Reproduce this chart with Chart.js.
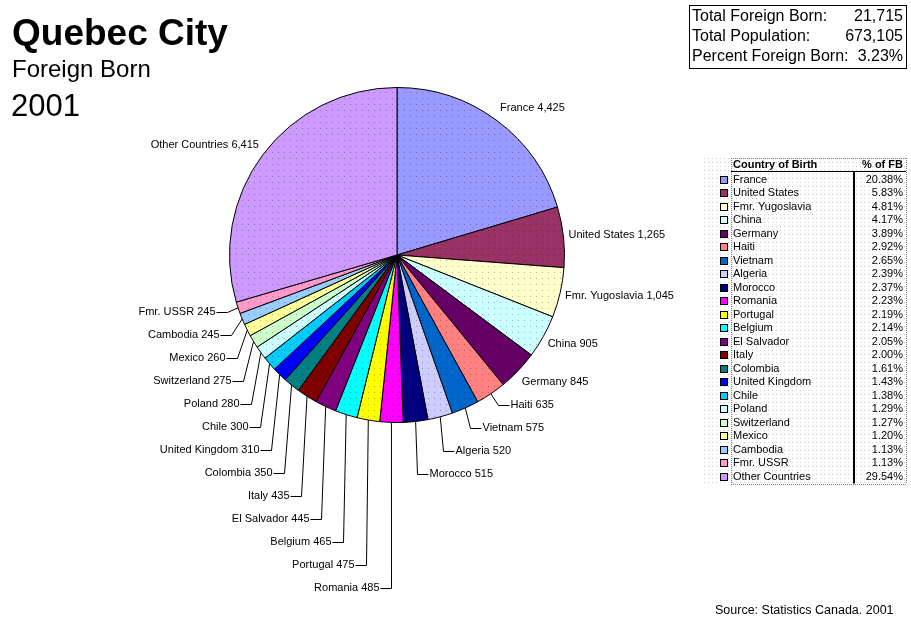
<!DOCTYPE html>
<html>
<head>
<meta charset="utf-8">
<script src="https://cdn.jsdelivr.net/npm/chart.js@4.4.0/dist/chart.umd.min.js"></script>
<style>
  html, body { margin: 0; padding: 0; background: #fff; }
</style>
</head>
<body>
<canvas id="pieChart" width="911" height="623"></canvas>
<script>
// Foreign born by country of birth, Quebec City 2001
const countries = ['France', 'United States', 'Fmr. Yugoslavia', 'China', 'Germany', 'Haiti', 'Vietnam',
  'Algeria', 'Morocco', 'Romania', 'Portugal', 'Belgium', 'El Salvador', 'Italy', 'Colombia',
  'United Kingdom', 'Chile', 'Poland', 'Switzerland', 'Mexico', 'Cambodia', 'Fmr. USSR', 'Other Countries'];
const foreignBorn = [4425, 1265, 1045, 905, 845, 635, 575, 520, 515, 485, 475, 465, 445, 435, 350,
  310, 300, 280, 275, 260, 245, 245, 6415];
const totalForeignBorn = 21715;
const totalPopulation = 673105;

// Excel-style palette
const sliceColors = ['#9999FF', '#993366', '#FFFFCC', '#CCFFFF', '#660066', '#FF8080', '#0066CC',
  '#CCCCFF', '#000080', '#FF00FF', '#FFFF00', '#00FFFF', '#800080', '#800000', '#008080',
  '#0000FF', '#00CCFF', '#CCFFFF', '#CCFFCC', '#FFFF99', '#99CCFF', '#FF99CC', '#CC99FF'];

const FONT = '"Liberation Sans", Arial, sans-serif';
const fmt = n => n.toLocaleString('en-US');

// dotted fill like the old print patterns
function dotted(color) {
  const c = document.createElement('canvas');
  c.width = 6; c.height = 6;
  const g = c.getContext('2d');
  g.fillStyle = color;
  g.fillRect(0, 0, 6, 6);
  g.fillStyle = 'rgba(0,0,0,0.28)';
  g.fillRect(2, 2, 1, 1);
  return g.createPattern(c, 'repeat');
}

// slice labels, leader lines for the small ones
const pieLabels = {
  id: 'pieLabels',
  afterDatasetsDraw(chart) {
    const ctx = chart.ctx;
    const arcs = chart.getDatasetMeta(0).data;
    const total = foreignBorn.reduce((a, b) => a + b, 0);
    ctx.save();
    ctx.font = '11px ' + FONT;
    ctx.fillStyle = '#000';
    ctx.strokeStyle = '#000';
    ctx.lineWidth = 1;
    ctx.textBaseline = 'middle';
    const right = [], left = [];
    arcs.forEach((arc, i) => {
      const mid = (arc.startAngle + arc.endAngle) / 2;
      const dx = Math.cos(mid), dy = Math.sin(mid);
      const r = arc.outerRadius;
      const text = countries[i] + ' ' + fmt(foreignBorn[i]);
      if (foreignBorn[i] / total < 0.03) {
        const item = { mid, dx, dy, r, x: arc.x, y: arc.y, text, natY: arc.y + (r + 6) * dy + dy * 8 };
        (dx >= 0 ? right : left).push(item);
      } else {
        ctx.textAlign = dx >= 0 ? 'left' : 'right';
        ctx.fillText(text, arc.x + (r + 5) * dx, arc.y + (r + 6) * dy + dy * 10);
      }
    });
    right.sort((a, b) => a.mid - b.mid);
    left.sort((a, b) => b.mid - a.mid);
    [right, left].forEach(group => {
      let prev = -Infinity;
      group.forEach(it => {
        const ly = Math.round(Math.max(it.natY, prev + 23));
        prev = ly;
        const side = it.dx >= 0 ? 1 : -1;
        const ex = it.x + it.r * it.dx, ey = it.y + it.r * it.dy;
        const bx = Math.round(it.x + (it.r + 12) * it.dx) + 0.5;
        ctx.beginPath();
        ctx.moveTo(ex, ey);
        ctx.lineTo(bx, ly + 0.5);
        ctx.lineTo(bx + side * 11, ly + 0.5);
        ctx.stroke();
        ctx.textAlign = side > 0 ? 'left' : 'right';
        ctx.fillText(it.text, bx + side * 12, ly);
      });
    });
    ctx.restore();
  }
};

// titles, totals box, legend table, source
const decor = {
  id: 'decor',
  afterDraw(chart) {
    const ctx = chart.ctx;
    const total = foreignBorn.reduce((a, b) => a + b, 0);
    ctx.save();
    ctx.fillStyle = '#000';
    ctx.textBaseline = 'alphabetic';
    ctx.textAlign = 'left';
    ctx.font = 'bold 37px ' + FONT;
    ctx.fillText('Quebec City', 12, 45);
    ctx.font = '24px ' + FONT;
    ctx.fillText('Foreign Born', 12, 77);
    ctx.font = '31px ' + FONT;
    ctx.fillText('2001', 11, 116);

    // totals box
    ctx.strokeStyle = '#000';
    ctx.lineWidth = 1;
    ctx.strokeRect(689.5, 5.5, 217, 63);
    ctx.font = '16px ' + FONT;
    ctx.textBaseline = 'middle';
    const rows = [
      ['Total Foreign Born:', fmt(totalForeignBorn)],
      ['Total Population:', fmt(totalPopulation)],
      ['Percent Foreign Born:', (totalForeignBorn / totalPopulation * 100).toFixed(2) + '%']
    ];
    rows.forEach((r, k) => {
      ctx.textAlign = 'left';
      ctx.fillText(r[0], 692, 17 + k * 20);
      ctx.textAlign = 'right';
      ctx.fillText(r[1], 903, 17 + k * 20);
    });

    // legend table
    const tx = 731, tr = 906, ty = 158, rowH = 13.5, firstRow = 179.5;
    const tb = firstRow + (countries.length - 1) * rowH + 7;
    ctx.fillStyle = '#cfcfcf';
    for (let yy = ty; yy <= tb; yy += 4) {
      for (let xx = 704; xx <= tr; xx += 4) ctx.fillRect(xx, yy, 1, 1);
    }
    // dotted outline of the table
    ctx.fillStyle = '#808080';
    for (let xx = tx; xx <= tr; xx += 2) { ctx.fillRect(xx, ty, 1, 1); ctx.fillRect(xx, Math.round(tb), 1, 1); }
    for (let yy = ty; yy <= tb; yy += 2) { ctx.fillRect(tx, yy, 1, 1); ctx.fillRect(tr, yy, 1, 1); }
    ctx.strokeStyle = '#000';
    ctx.beginPath();
    ctx.moveTo(tx, 171.5); ctx.lineTo(tr, 171.5);
    ctx.stroke();
    ctx.lineWidth = 2;
    ctx.beginPath();
    ctx.moveTo(854, 172); ctx.lineTo(854, tb);
    ctx.stroke();
    ctx.lineWidth = 1;
    ctx.fillStyle = '#000';
    ctx.font = 'bold 11px ' + FONT;
    ctx.textAlign = 'left';
    ctx.fillText('Country of Birth', 733, 165);
    ctx.textAlign = 'right';
    ctx.fillText('% of FB', 903, 165);
    ctx.font = '11px ' + FONT;
    countries.forEach((name, i) => {
      const yy = firstRow + i * rowH;
      ctx.fillStyle = sliceColors[i];
      ctx.fillRect(720, Math.round(yy) - 4, 8, 8);
      ctx.strokeRect(720.5, Math.round(yy) - 3.5, 7, 7);
      ctx.fillStyle = '#000';
      ctx.textAlign = 'left';
      ctx.fillText(name, 733, yy);
      ctx.textAlign = 'right';
      ctx.fillText((foreignBorn[i] / total * 100).toFixed(2) + '%', 903, yy);
    });

    ctx.font = '12.5px ' + FONT;
    ctx.textAlign = 'left';
    ctx.fillText('Source: Statistics Canada. 2001', 715, 611);
    ctx.restore();
  }
};

new Chart(document.getElementById('pieChart'), {
  type: 'pie',
  data: {
    labels: countries,
    datasets: [{
      data: foreignBorn,
      backgroundColor: sliceColors.map(dotted),
      borderColor: '#000',
      borderWidth: 1
    }]
  },
  options: {
    responsive: false,
    animation: false,
    devicePixelRatio: 1,
    layout: {
      padding: { left: 229, right: 346, top: 87, bottom: 200 } // puts the pie at (397,255), r 168
    },
    plugins: {
      legend: { display: false },
      title: { display: false },
      tooltip: { enabled: false }
    }
  },
  plugins: [pieLabels, decor]
});
</script>
</body>
</html>
